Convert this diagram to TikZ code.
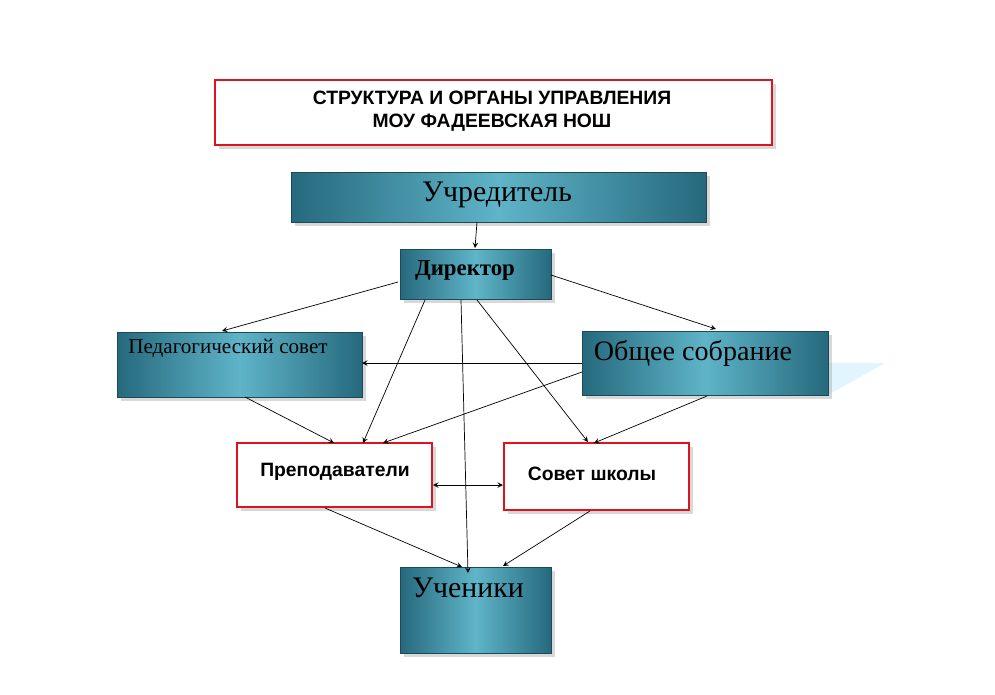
\documentclass[tikz,border=0pt]{standalone}
\usepackage{fontspec}
\setmainfont{Liberation Serif}
\newfontfamily\sansru{Liberation Sans}
\usetikzlibrary{shadows}
\definecolor{tealdark}{RGB}{38,105,125}
\definecolor{teallight}{RGB}{95,180,200}
\definecolor{boxred}{RGB}{220,20,30}
\tikzset{
  tealbox/.style={draw=tealdark!70!black,thin,left color=tealdark,right color=tealdark,middle color=teallight,
    drop shadow={shadow xshift=2pt,shadow yshift=-2pt,fill=gray!60}},
  redbox/.style={draw=boxred,line width=1.6pt,fill=white,
    drop shadow={shadow xshift=2pt,shadow yshift=-2pt,fill=gray!60}},
  arr/.style={->,>=stealth,thin}
}
\begin{document}
\begin{tikzpicture}[x=0.02cm,y=-0.02cm]
  \useasboundingbox (0,0) rectangle (995,694);
  % boxes
  \draw[redbox] (215,80) rectangle (772,145);
  \node[font=\sansru\bfseries\fontsize{11}{13}\selectfont,align=center] (title) at (492,111)
    {СТРУКТУРА И ОРГАНЫ УПРАВЛЕНИЯ\\МОУ ФАДЕЕВСКАЯ НОШ};
  \fill[cyan!12] (828,395) -- (885,363) -- (828,363) -- cycle;
  \draw[tealbox] (291,172) rectangle (706,222);
  \draw[tealbox] (400,249) rectangle (551,299);
  \draw[tealbox] (117,332) rectangle (362,397);
  \draw[tealbox] (582,331) rectangle (828,395);
  \draw[tealbox] (400,567) rectangle (551,653);
  \draw[redbox] (237,443) rectangle (432,507);
  \draw[redbox] (504,443) rectangle (689,510);
  % labels
  \node[font=\fontsize{17}{19}\selectfont] (uchr) at (497,195) {Учредитель};
  \node[font=\bfseries\fontsize{13}{15}\selectfont] (dir) at (465,270) {Директор};
  \node[font=\fontsize{12}{14}\selectfont] (ped) at (228,348) {Педагогический совет};
  \node[font=\fontsize{16}{18}\selectfont] (obsh) at (693,353) {Общее собрание};
  \node[font=\sansru\bfseries\fontsize{11}{13}\selectfont] (prep) at (335,472) {Преподаватели};
  \node[font=\sansru\bfseries\fontsize{11}{13}\selectfont] (sovet) at (592,474) {Совет школы};
  \node[font=\fontsize{17}{19}\selectfont] (uch) at (468,588) {Ученики};
  % connectors
  \coordinate (a1) at (477,222); \coordinate (a2) at (475,248);
  \draw[arr] (a1) -- (a2);
  \draw[arr] (398,282) -- (222,331);
  \draw[arr] (551,275) -- (716,329);
  \draw[arr] (425,300) -- (363,443);
  \draw[arr] (461,300) -- (468,573);
  \draw[arr] (477,300) -- (588,442);
  \draw[arr] (582,363) -- (362,363);
  \draw[arr] (582,372) -- (383,443);
  \draw[arr] (707,396) -- (594,443);
  \draw[arr] (245,397) -- (334,443);
  \draw[<->,>=stealth,thin] (433,485) -- (503,485);
  \draw[arr] (325,508) -- (462,567);
  \draw[arr] (590,511) -- (503,566);
\end{tikzpicture}
\end{document}
